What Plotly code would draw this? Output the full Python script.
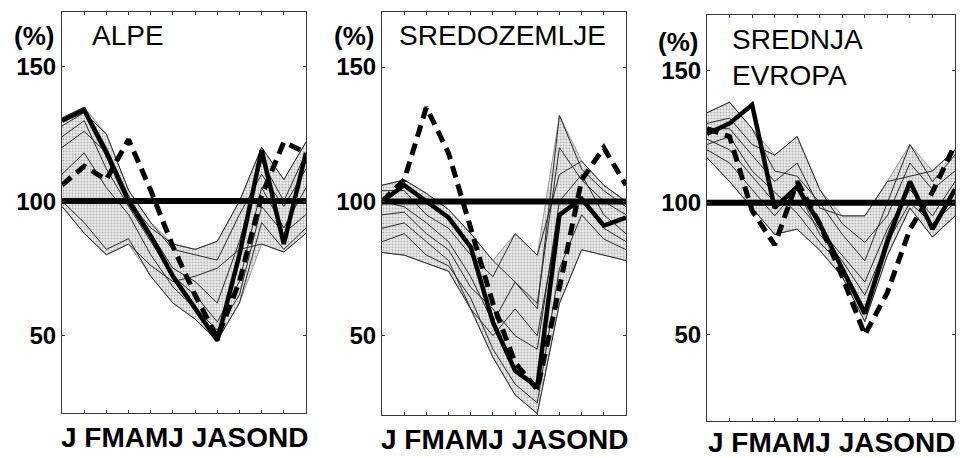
import numpy as np
import plotly.graph_objects as go

W, H = 965, 458

months = ["J", "F", "M", "A", "M", "J", "J", "A", "S", "O", "N", "D"]
month_label = "J FMAMJ JASOND"
yticks = [50, 100, 150]
reference_level = 100

# ---- ALPE ----
alpe_title = "ALPE"
alpe_thin = [
    [131, 135, 120, 102, 88, 75, 70, 62, 85, 115, 100, 118],
    [128, 133, 125, 104, 92, 82, 80, 78, 95, 110, 98, 112],
    [124, 130, 112, 98, 85, 72, 65, 55, 70, 105, 90, 105],
    [120, 126, 118, 100, 90, 84, 82, 85, 100, 120, 108, 122],
    [110, 118, 105, 95, 80, 68, 60, 52, 65, 98, 88, 95],
    [100, 92, 82, 86, 72, 62, 56, 48, 62, 92, 82, 90],
    [98, 88, 80, 84, 76, 70, 72, 75, 82, 84, 81, 88],
]
alpe_solid = [130, 134, 118, 100, 87, 72, 60, 48, 80, 119, 84, 118]
alpe_dashed = [106, 113, 108, 123, 104, 83, 65, 49, 70, 102, 122, 118]

# ---- SREDOZEMLJE ----
sred_title = "SREDOZEMLJE"
sred_thin = [
    [106, 108, 103, 97, 88, 78, 70, 60, 132, 112, 104, 98],
    [104, 104, 95, 90, 80, 72, 88, 80, 110, 115, 106, 100],
    [100, 98, 92, 85, 72, 55, 70, 62, 120, 108, 100, 95],
    [95, 96, 88, 82, 68, 60, 50, 45, 100, 110, 95, 88],
    [90, 92, 85, 78, 60, 50, 60, 50, 95, 100, 90, 85],
    [85, 88, 80, 76, 64, 45, 32, 25, 75, 95, 86, 82],
    [81, 80, 77, 74, 60, 42, 28, 21, 62, 82, 80, 78],
]
sred_solid = [100, 106, 100, 94, 83, 55, 37, 31, 95, 101, 91, 94]
sred_dashed = [100, 108, 135, 118, 90, 62, 40, 30, 68, 108, 120, 106]

# ---- SREDNJA EVROPA ----
evr_title = "SREDNJA<br>EVROPA"
evr_thin = [
    [134, 138, 128, 112, 110, 100, 88, 78, 100, 122, 108, 118],
    [130, 132, 122, 118, 125, 105, 92, 85, 95, 115, 105, 112],
    [128, 128, 118, 108, 115, 98, 95, 95, 108, 110, 112, 120],
    [124, 120, 110, 100, 100, 90, 80, 70, 90, 105, 95, 108],
    [120, 115, 105, 95, 105, 88, 78, 65, 85, 100, 92, 100],
    [117, 108, 98, 88, 90, 82, 72, 55, 80, 98, 87, 95],
    [122, 125, 112, 104, 96, 85, 76, 60, 88, 108, 90, 104],
]
evr_solid = [126, 130, 137, 98, 106, 92, 75, 58, 85, 108, 90, 105]
evr_dashed = [128, 125, 97, 84, 108, 92, 72, 50, 66, 90, 104, 122]

# panel boxes in pixels: (left, right, top, bottom), y range, label anchors
panels = [
    dict(title=alpe_title, thin=alpe_thin, solid=alpe_solid, dashed=alpe_dashed,
         box=(62, 306, 12, 413), yr=(21, 170.5), pct=(34, 36), ttl=(90, 35), mon=437),
    dict(title=sred_title, thin=sred_thin, solid=sred_solid, dashed=sred_dashed,
         box=(382, 626, 12, 415), yr=(20.5, 170.5), pct=(354, 36), ttl=(397, 35), mon=439),
    dict(title=evr_title, thin=evr_thin, solid=evr_solid, dashed=evr_dashed,
         box=(707, 955, 15, 421), yr=(17.4, 171), pct=(678, 42), ttl=(730, 57), mon=442),
]

fig = go.Figure()
x = list(range(len(months)))
FONT = "Liberation Sans, Arial, sans-serif"


def px(xp):
    return xp / W


def py(yp):
    return 1 - yp / H


for i, p in enumerate(panels, start=1):
    xa = "x" if i == 1 else f"x{i}"
    ya = "y" if i == 1 else f"y{i}"
    thin = np.array(p["thin"], dtype=float)
    lo = thin.min(axis=0)
    hi = thin.max(axis=0)

    # stippled envelope of all years
    fig.add_trace(go.Scatter(x=x, y=lo, mode="lines", line=dict(color="#9a9a9a", width=1),
                             xaxis=xa, yaxis=ya, showlegend=False, hoverinfo="skip"))
    fig.add_trace(go.Scatter(x=x, y=hi, mode="lines", line=dict(color="#9a9a9a", width=1),
                             fill="tonexty", fillcolor="#d9d9d9",
                             fillpattern=dict(shape=".", size=3, solidity=0.35,
                                              fgcolor="#777777", bgcolor="#ececec"),
                             xaxis=xa, yaxis=ya, showlegend=False, hoverinfo="skip"))
    for row in p["thin"]:
        fig.add_trace(go.Scatter(x=x, y=row, mode="lines", line=dict(color="#2a2a2a", width=1),
                                 xaxis=xa, yaxis=ya, showlegend=False))
    fig.add_trace(go.Scatter(x=[0, len(months) - 1], y=[reference_level] * 2, mode="lines",
                             line=dict(color="black", width=6),
                             xaxis=xa, yaxis=ya, showlegend=False))
    fig.add_trace(go.Scatter(x=x, y=p["solid"], mode="lines", line=dict(color="black", width=4.5),
                             xaxis=xa, yaxis=ya, showlegend=False))
    fig.add_trace(go.Scatter(x=x, y=p["dashed"], mode="lines",
                             line=dict(color="black", width=5, dash="12px,7px"),
                             xaxis=xa, yaxis=ya, showlegend=False))

    l, r, t, b = p["box"]
    axis_common = dict(showline=True, linecolor="#3a3a3a", linewidth=1, mirror="ticks",
                       ticks="inside", ticklen=3, tickcolor="#3a3a3a", showgrid=False,
                       zeroline=False)
    fig.layout[f"xaxis{'' if i == 1 else i}"] = dict(
        domain=[px(l), px(r)], range=[0, len(months) - 1], anchor=ya,
        tickvals=x, showticklabels=False, **axis_common)
    fig.layout[f"yaxis{'' if i == 1 else i}"] = dict(
        domain=[py(b), py(t)], range=list(p["yr"]), anchor=xa,
        tickvals=yticks, ticktext=[str(v) for v in yticks],
        tickfont=dict(family=FONT, size=24, color="black", weight="bold"),
        **axis_common)

    fig.add_annotation(x=px(p["pct"][0]), y=py(p["pct"][1]), xref="paper", yref="paper",
                       text="(%)", showarrow=False, xanchor="center", yanchor="middle",
                       font=dict(family=FONT, size=26, color="black", weight="bold"))
    fig.add_annotation(x=px(p["ttl"][0]), y=py(p["ttl"][1]), xref="paper", yref="paper",
                       text=p["title"], showarrow=False, xanchor="left", yanchor="middle",
                       align="left", font=dict(family=FONT, size=28, color="black"))
    fig.add_annotation(x=px((l + r) / 2), y=py(p["mon"]), xref="paper", yref="paper",
                       text=month_label, showarrow=False, xanchor="center", yanchor="middle",
                       font=dict(family=FONT, size=28, color="black", weight="bold"))

fig.update_layout(width=W, height=H, margin=dict(l=0, r=0, t=0, b=0),
                  plot_bgcolor="white", paper_bgcolor="white")

fig.write_html("out.html")
